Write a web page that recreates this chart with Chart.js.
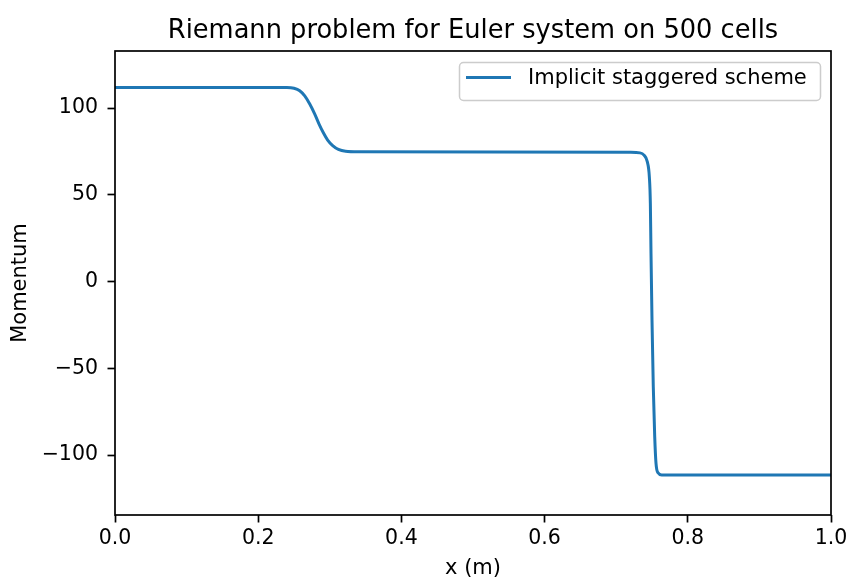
<!DOCTYPE html>
<html>
<head>
<meta charset="utf-8">
<title>Riemann problem for Euler system on 500 cells</title>
<script src="https://cdn.jsdelivr.net/npm/chart.js@4/dist/chart.umd.min.js"></script>
<style>
    html, body { margin: 0; padding: 0; background: #fff; }
    #momentumChart { display: block; }
</style>
</head>
<body>
<canvas id="momentumChart" width="847" height="579"></canvas>
<script>
// cell positions (m) and momentum along the tube, dense only where the profile bends
const xPositions = [
    0.0, 0.240, 0.250, 0.258, 0.265, 0.272, 0.279, 0.285, 0.291, 0.297, 0.304, 0.312, 0.322, 0.340,
    0.720, 0.7332, 0.7388, 0.7435, 0.7463, 0.7477, 0.7486, 0.7500, 0.7518, 0.7538, 0.7556, 0.7584, 0.7635, 1.0
];
const momentum = [
    111.8, 111.8, 111.4, 110.0, 107.0, 102.3, 96.5, 90.8, 85.8, 81.6, 78.4, 76.2, 75.1, 74.8,
    74.5, 74.2, 72.9, 69.0, 60.4, 45.1, 16.3, -22.2, -60.6, -89.5, -104.8, -110.2, -111.4, -111.5
];

const xTickValues = [0.0, 0.2, 0.4, 0.6, 0.8, 1.0];
const yTickValues = [-100, -50, 0, 50, 100];
const xRange = [0.0, 1.0];
const yRange = [-134.5, 132.9];

const seriesLabel = "Implicit staggered scheme";
const titleText = "Riemann problem for Euler system on 500 cells";
const xLabel = "x (m)";
const yLabel = "Momentum";

const fontFamily = "'DejaVu Sans', sans-serif";
const lineColor = "#1f77b4";
const inkColor = "#000";

// title centred over the plot area, not over the whole canvas
const axesTitle = {
    id: "axesTitle",
    afterDraw(chart) {
        const { ctx, chartArea: a } = chart;
        ctx.save();
        ctx.fillStyle = inkColor;
        ctx.font = "25.7px " + fontFamily;
        ctx.textAlign = "center";
        ctx.textBaseline = "alphabetic";
        ctx.fillText(titleText, (a.left + a.right) / 2, 38);
        ctx.restore();
    }
};

// all four spines, drawn over the line like matplotlib does
const frameBox = {
    id: "frameBox",
    afterDatasetsDraw(chart) {
        const { ctx, chartArea: a } = chart;
        ctx.save();
        ctx.strokeStyle = inkColor;
        ctx.lineWidth = 1.7;
        ctx.strokeRect(a.left, a.top, a.right - a.left, a.bottom - a.top);
        ctx.restore();
    }
};

// boxed legend in the upper right corner
const cornerLegend = {
    id: "cornerLegend",
    afterDraw(chart) {
        const { ctx } = chart;
        const ds = chart.data.datasets[0];
        ctx.save();
        ctx.beginPath();
        ctx.roundRect(459.5, 62.5, 361, 38, 4);
        ctx.fillStyle = "rgba(255,255,255,0.8)";
        ctx.fill();
        ctx.strokeStyle = "#cccccc";
        ctx.lineWidth = 1.5;
        ctx.stroke();

        ctx.beginPath();
        ctx.moveTo(466, 77.5);
        ctx.lineTo(511, 77.5);
        ctx.strokeStyle = ds.borderColor;
        ctx.lineWidth = ds.borderWidth;
        ctx.stroke();

        ctx.fillStyle = inkColor;
        ctx.font = "21px " + fontFamily;
        ctx.textBaseline = "middle";
        ctx.textAlign = "left";
        ctx.fillText(ds.label, 528, 78.5);
        ctx.restore();
    }
};

const formatY = (v) => (v < 0 ? "\u2212" + Math.abs(v) : String(v));

document.addEventListener("DOMContentLoaded", function () {
    const points = xPositions.map((x, i) => ({ x: x, y: momentum[i] }));

    new Chart(document.getElementById("momentumChart"), {
        type: "line",
        data: {
            datasets: [{
                label: seriesLabel,
                data: points,
                borderColor: lineColor,
                borderWidth: 3,
                pointRadius: 0,
                fill: false,
                cubicInterpolationMode: "monotone",
            }],
        },
        options: {
            responsive: false,
            animation: false,
            devicePixelRatio: 1,
            layout: { padding: { left: 0, top: 51, right: 16, bottom: 0 } },
            plugins: {
                legend: { display: false },
                tooltip: { enabled: false },
                title: { display: false },
            },
            scales: {
                x: {
                    type: "linear",
                    min: xRange[0],
                    max: xRange[1],
                    afterBuildTicks: (scale) => {
                        scale.ticks = xTickValues.map(v => ({ value: v }));
                    },
                    afterFit: (scale) => {
                        scale.height = 64;
                        scale.paddingLeft = 0;
                        scale.paddingRight = 0;
                    },
                    border: { display: false },
                    grid: {
                        drawOnChartArea: false,
                        drawTicks: true,
                        tickLength: 7.5,
                        tickWidth: 1.7,
                        tickColor: inkColor,
                    },
                    ticks: {
                        color: inkColor,
                        padding: 3.8,
                        maxRotation: 0,
                        font: { family: fontFamily, size: 20.5, lineHeight: 1.2 },
                        callback: (v) => Number(v).toFixed(1),
                    },
                    title: {
                        display: true,
                        text: xLabel,
                        color: inkColor,
                        padding: { top: 0, bottom: 0 },
                        font: { family: fontFamily, size: 21, lineHeight: 1.0 },
                    },
                },
                y: {
                    type: "linear",
                    min: yRange[0],
                    max: yRange[1],
                    afterBuildTicks: (scale) => {
                        scale.ticks = yTickValues.map(v => ({ value: v }));
                    },
                    afterFit: (scale) => {
                        scale.width = 115;
                    },
                    border: { display: false },
                    grid: {
                        drawOnChartArea: false,
                        drawTicks: true,
                        tickLength: 7.5,
                        tickWidth: 1.7,
                        tickColor: inkColor,
                    },
                    ticks: {
                        color: inkColor,
                        padding: 9.5,
                        font: { family: fontFamily, size: 20.5, lineHeight: 1.2 },
                        callback: (v) => formatY(v),
                    },
                    title: {
                        display: true,
                        text: yLabel,
                        color: inkColor,
                        padding: { top: 8.3, bottom: 0 },
                        font: { family: fontFamily, size: 21, lineHeight: 1.2 },
                    },
                },
            },
        },
        plugins: [axesTitle, frameBox, cornerLegend],
    });
});
</script>
</body>
</html>
